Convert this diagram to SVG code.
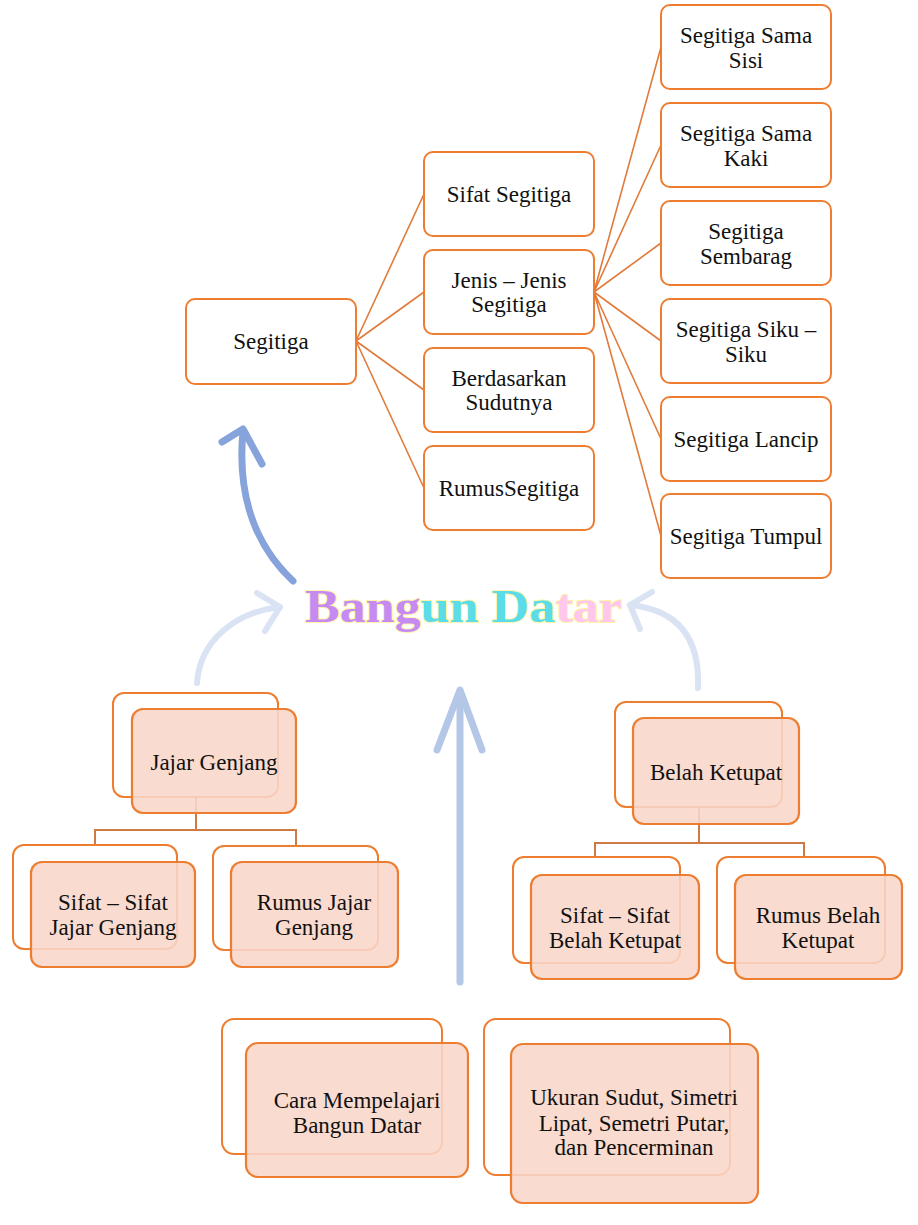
<svg xmlns="http://www.w3.org/2000/svg" width="918" height="1225" viewBox="0 0 918 1225">
<style>
.box{fill:#ffffff;stroke:#ED7D31;stroke-width:2}
.back{fill:#ffffff;stroke:#ED7D31;stroke-width:2}
.front{fill:#F8D6CA;fill-opacity:0.88;stroke:#ED7D31;stroke-width:2.2}
.t{font-family:"Liberation Serif","Times New Roman",serif;font-size:23px;fill:#111111;text-anchor:middle}
.tree{stroke:#E07B3C;stroke-width:1.6;fill:none}
.org{stroke:#CF7A45;stroke-width:2;fill:none}
.arr{fill:none;stroke-linecap:round;stroke-linejoin:round}
.title{font-family:"Liberation Serif","DejaVu Serif",serif;font-size:47px;font-weight:bold;paint-order:stroke;stroke:#FFF3A8;stroke-width:2}
</style>
<rect width="918" height="1225" fill="#ffffff"/>

<g id="connectors">
  <path class="tree" d="M356,341 L424,194 M356,341 L424,292 M356,341 L424,390 M356,341 L424,488"/>
  <path class="tree" d="M594,292 L661,47 M594,292 L661,145 M594,292 L661,243 M594,292 L661,341 M594,292 L661,439 M594,292 L661,536"/>
  <path class="org" d="M196,797 L196,830 M95,846 L95,830 L296,830 L296,846"/>
  <path class="org" d="M699,807 L699,843 M595,857 L595,843 L804,843 L804,857"/>
  <g class="arr" stroke="#86A3DB" stroke-width="7">
    <path d="M293,581 C262,552 236,505 243,431"/>
    <path d="M222,442 L243,429 L262,464"/>
  </g>
  <g class="arr" stroke="#DAE3F3" stroke-width="6">
    <path d="M197,683 C200,640 236,612 280,607"/>
    <path d="M257,593 L280,607 L265,631"/>
  </g>
  <g class="arr" stroke="#DAE3F3" stroke-width="6">
    <path d="M698,688 C700,640 680,610 630,605"/>
    <path d="M652,592 L630,605 L640,629"/>
  </g>
  <g class="arr" stroke="#B4C7E7" stroke-width="7">
    <path d="M460,982 L460,692"/>
    <path d="M437,750 L460,690 L482,750"/>
  </g>
</g>

<g id="title">
  <text class="title" x="305" y="622" textLength="317" lengthAdjust="spacingAndGlyphs"><tspan fill="#C58BF3">Bang</tspan><tspan fill="#5ADCE9">un Da</tspan><tspan fill="#FFC6EE">tar</tspan></text>
</g>

<g id="segitiga">
  <rect class="box" x="186" y="299" width="170" height="85" rx="9"/>
  <text class="t" x="271" y="349">Segitiga</text>
</g>
<g id="sifat-segitiga">
  <rect class="box" x="424" y="152" width="170" height="84" rx="9"/>
  <text class="t" x="509" y="202">Sifat Segitiga</text>
</g>
<g id="jenis-segitiga">
  <rect class="box" x="424" y="250" width="170" height="84" rx="9"/>
  <text class="t" x="509" y="288">Jenis – Jenis</text>
  <text class="t" x="509" y="312">Segitiga</text>
</g>
<g id="berdasarkan-sudut">
  <rect class="box" x="424" y="348" width="170" height="84" rx="9"/>
  <text class="t" x="509" y="386">Berdasarkan</text>
  <text class="t" x="509" y="410">Sudutnya</text>
</g>
<g id="rumus-segitiga">
  <rect class="box" x="424" y="446" width="170" height="84" rx="9"/>
  <text class="t" x="509" y="496">RumusSegitiga</text>
</g>

<g id="sama-sisi">
  <rect class="box" x="661" y="5" width="170" height="84" rx="9"/>
  <text class="t" x="746" y="43">Segitiga Sama</text>
  <text class="t" x="746" y="68">Sisi</text>
</g>
<g id="sama-kaki">
  <rect class="box" x="661" y="103" width="170" height="84" rx="9"/>
  <text class="t" x="746" y="141">Segitiga Sama</text>
  <text class="t" x="746" y="166">Kaki</text>
</g>
<g id="sembarang">
  <rect class="box" x="661" y="201" width="170" height="84" rx="9"/>
  <text class="t" x="746" y="239">Segitiga</text>
  <text class="t" x="746" y="264">Sembarag</text>
</g>
<g id="siku-siku">
  <rect class="box" x="661" y="299" width="170" height="84" rx="9"/>
  <text class="t" x="746" y="337">Segitiga Siku –</text>
  <text class="t" x="746" y="362">Siku</text>
</g>
<g id="lancip">
  <rect class="box" x="661" y="397" width="170" height="84" rx="9"/>
  <text class="t" x="746" y="447">Segitiga Lancip</text>
</g>
<g id="tumpul">
  <rect class="box" x="661" y="494" width="170" height="84" rx="9"/>
  <text class="t" x="746" y="544">Segitiga Tumpul</text>
</g>

<g id="jajar-genjang">
  <rect class="back" x="113" y="693" width="165" height="104" rx="11"/>
  <rect class="front" x="132" y="709" width="164" height="104" rx="11"/>
  <text class="t" x="214" y="770">Jajar Genjang</text>
</g>
<g id="sifat-jajar-genjang">
  <rect class="back" x="13" y="845" width="164" height="104" rx="11"/>
  <rect class="front" x="31" y="862" width="164" height="105" rx="11"/>
  <text class="t" x="113" y="910">Sifat – Sifat</text>
  <text class="t" x="113" y="935">Jajar Genjang</text>
</g>
<g id="rumus-jajar-genjang">
  <rect class="back" x="213" y="846" width="165" height="104" rx="11"/>
  <rect class="front" x="231" y="862" width="167" height="105" rx="11"/>
  <text class="t" x="314" y="910">Rumus Jajar</text>
  <text class="t" x="314" y="935">Genjang</text>
</g>

<g id="belah-ketupat">
  <rect class="back" x="615" y="702" width="167" height="105" rx="11"/>
  <rect class="front" x="633" y="718" width="166" height="106" rx="11"/>
  <text class="t" x="716" y="780">Belah Ketupat</text>
</g>
<g id="sifat-belah-ketupat">
  <rect class="back" x="513" y="857" width="167" height="106" rx="11"/>
  <rect class="front" x="531" y="875" width="168" height="104" rx="11"/>
  <text class="t" x="615" y="923">Sifat – Sifat</text>
  <text class="t" x="615" y="948">Belah Ketupat</text>
</g>
<g id="rumus-belah-ketupat">
  <rect class="back" x="717" y="857" width="168" height="106" rx="11"/>
  <rect class="front" x="735" y="875" width="167" height="104" rx="11"/>
  <text class="t" x="818" y="923">Rumus Belah</text>
  <text class="t" x="818" y="948">Ketupat</text>
</g>

<g id="cara-mempelajari">
  <rect class="back" x="222" y="1019" width="220" height="135" rx="12"/>
  <rect class="front" x="246" y="1043" width="222" height="134" rx="12"/>
  <text class="t" x="357" y="1108">Cara Mempelajari</text>
  <text class="t" x="357" y="1133">Bangun Datar</text>
</g>
<g id="ukuran-sudut">
  <rect class="back" x="484" y="1019" width="246" height="156" rx="12"/>
  <rect class="front" x="511" y="1044" width="247" height="159" rx="12"/>
  <text class="t" x="634" y="1105">Ukuran Sudut, Simetri</text>
  <text class="t" x="634" y="1131">Lipat, Semetri Putar,</text>
  <text class="t" x="634" y="1155">dan Pencerminan</text>
</g>
</svg>
